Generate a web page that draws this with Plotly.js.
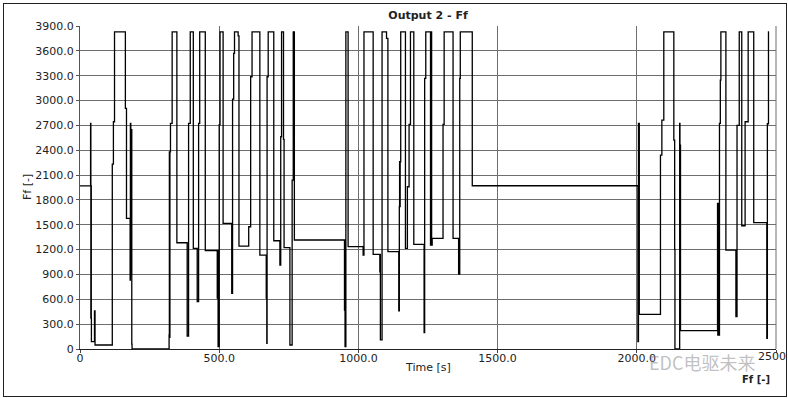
<!DOCTYPE html>
<html>
<head>
<meta charset="utf-8">
<script src="https://cdn.plot.ly/plotly-3.0.1.min.js"></script>
<style>
  html, body { margin: 0; padding: 0; background: #fff; }
  #wrap { position: relative; width: 788px; height: 398px; }
  #chart { width: 788px; height: 398px; }
  #frame { position: absolute; left: 3px; top: 3px; width: 784px; height: 394px;
           border: 1px solid #222; box-sizing: border-box; pointer-events: none; }
</style>
</head>
<body>
<div id="wrap">
  <div id="chart"></div>
  <div id="frame"></div>
</div>
<script>
// Time [s] at which each new Ff value starts (step signal)
const timeS = [
  0, 38, 39, 40, 40.5, 41, 52, 54, 116, 120, 124, 163, 167, 180, 181, 182.5, 184, 186, 187,
  320, 321, 322, 323, 325, 331, 348, 385, 390, 396, 407, 421, 426, 430, 450, 493, 494.5, 496,
  500, 503, 514, 545, 548, 552, 555, 568, 571, 606, 613, 618, 646, 669, 670, 671, 672, 676,
  696, 718, 721, 724, 731, 733, 754, 762, 766, 770, 950, 951, 952, 955, 963, 1017, 1020,
  1053, 1077, 1078, 1079, 1085, 1101, 1106, 1145, 1147, 1148, 1149, 1150, 1152, 1169, 1176,
  1182, 1187, 1199, 1236, 1238, 1242, 1259, 1261, 1263, 1265, 1304, 1308, 1340, 1360, 1364,
  1366, 1409, 2004, 2006, 2007, 2008, 2009, 2085, 2090, 2097, 2133, 2136, 2137, 2154, 2155,
  2156, 2157, 2290, 2291, 2292, 2293, 2297, 2300, 2302, 2320, 2356, 2360, 2368, 2377, 2389,
  2400, 2420, 2467, 2469, 2473, 2475
];
// Ff [-] values
const ffValues = [
  1970, 2724, 374, 1970, 374, 88, 459, 48, 2233, 2744, 3830, 2905, 1577, 833, 2724, 900, 2650, 60, 0,
  170, 2381, 140, 2381, 2724, 3830, 1283, 157, 2724, 3830, 1215, 571, 2724, 3830, 1187, 616, 1187, 30,
  2710, 3830, 1517, 672, 3017, 3569, 3830, 3780, 1243, 1476, 3287, 3830, 1134, 616, 1134, 68, 3287, 3830,
  1307, 1014, 2563, 3830, 2531, 1223, 48, 2040, 3830, 1316, 470, 1316, 28, 3830, 1235, 1134, 3830,
  1143, 933, 1143, 109, 3830, 3750, 1175, 462, 1718, 2261, 1718, 2261, 3830, 1215, 1959,
  2712, 3830, 1263, 197, 3267, 3830, 1255, 3830, 1255, 1336, 2712, 3830, 1336, 905, 3267,
  3830, 1971, 88, 2724, 419, 2724, 419, 2341, 2764, 3830, 2523, 1203, 0, 2724, 310,
  2462, 221, 1758, 169, 1758, 169, 2724, 3247, 3830, 1195, 390, 2700, 3830, 1488, 2744,
  3830, 1525, 129, 2720, 3830, 3830
];

const yTickVals = [0, 300, 600, 900, 1200, 1500, 1800, 2100, 2400, 2700, 3000, 3300, 3600, 3900];
const yTickText = ["0", "300.0", "600.0", "900.0", "1200.0", "1500.0", "1800.0", "2100.0",
                   "2400.0", "2700.0", "3000.0", "3300.0", "3600.0", "3900.0"];
const xTickVals = [0, 500, 1000, 1500, 2000, 2500];
const xTickText = ["0", "500.0", "1000.0", "1500.0", "2000.0", ""];
const xLastTickLabel = "2500";

const chartTitle = "Output 2 - Ff";
const xTitle = "Time [s]";
const yTitle = "Ff [-]";
const legendLabel = "Ff [-]";
const watermark = "EDC电驱未来";

const font = "DejaVu Sans, Verdana, sans-serif";
const txt = { family: font, size: 11, color: "#222" };

const trace = {
  x: timeS,
  y: ffValues,
  type: "scatter",
  mode: "lines",
  line: { color: "#000", width: 1.3, shape: "hv" },
  hoverinfo: "skip",
  showlegend: false
};

const layout = {
  width: 788,
  height: 398,
  margin: { l: 80, r: 11.5, t: 26, b: 49 },
  paper_bgcolor: "#fff",
  plot_bgcolor: "#fff",
  font: txt,
  title: {
    text: "<b>" + chartTitle + "</b>",
    font: txt,
    x: 0.5, xanchor: "center", xref: "paper",
    y: 0.962, yanchor: "middle"
  },
  xaxis: {
    range: [0, 2500],
    tickvals: xTickVals,
    ticktext: xTickText,
    ticks: "outside", ticklen: 3, tickcolor: "#444",
    ticklabelstandoff: -4,
    showgrid: true, gridcolor: "#6e6e6e", gridwidth: 1,
    showline: true, linecolor: "#222", linewidth: 1, mirror: false,
    zeroline: false,
    tickfont: txt
  },
  yaxis: {
    range: [0, 3900],
    tickvals: yTickVals,
    ticktext: yTickText,
    ticks: "outside", ticklen: 3, tickcolor: "#555",
    showgrid: true, gridcolor: "#6e6e6e", gridwidth: 1,
    showline: true, linecolor: "#555", linewidth: 1, mirror: false,
    zeroline: false,
    tickfont: txt
  },
  shapes: [
    { type: "line", xref: "paper", yref: "paper", x0: 1, x1: 1, y0: 0, y1: 1,
      line: { color: "#6e6e6e", width: 1 } }
  ],
  annotations: [
    { text: xTitle, xref: "paper", yref: "paper", x: 0.5, y: -0.0588,
      xanchor: "center", yanchor: "middle", showarrow: false, font: txt },
    { text: yTitle, xref: "paper", yref: "paper", x: -0.0754, y: 0.5, textangle: -90,
      xanchor: "center", yanchor: "middle", showarrow: false, font: txt },
    { text: xLastTickLabel, xref: "paper", yref: "paper", x: 1.0, y: -0.0217,
      xanchor: "center", yanchor: "middle", xshift: -4, showarrow: false, font: txt },
    { text: "<b>" + legendLabel + "</b>", xref: "paper", yref: "paper", x: 1.0, y: -0.095,
      xanchor: "center", yanchor: "middle", xshift: -20, showarrow: false,
      font: { family: font, size: 10, color: "#222" } },
    { text: watermark, xref: "paper", yref: "paper", x: 0.893, y: -0.040, xanchor: "center",
      yanchor: "middle", showarrow: false,
      font: { family: "Noto Sans CJK SC, sans-serif", size: 18, color: "rgba(140,140,140,0.55)" } }
  ]
};

Plotly.newPlot("chart", [trace], layout, { displayModeBar: false, staticPlot: true });
</script>
</body>
</html>
